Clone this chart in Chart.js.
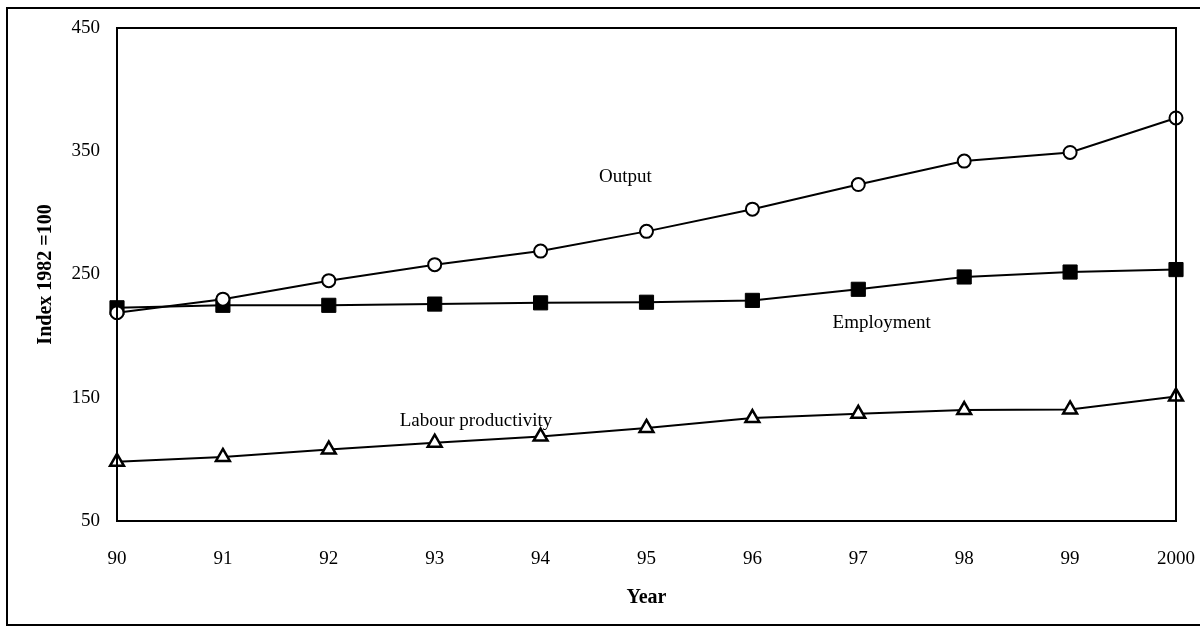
<!DOCTYPE html>
<html>
<head>
<meta charset="utf-8">
<script src="https://cdn.jsdelivr.net/npm/chart.js@4/dist/chart.umd.min.js"></script>
<style>
  html, body { margin: 0; padding: 0; background: #fff; }
  #wrap { width: 1200px; height: 627px; position: relative; }
</style>
</head>
<body>
<div id="wrap"><canvas id="c" width="1200" height="627"></canvas></div>
<script>
const years = ['90', '91', '92', '93', '94', '95', '96', '97', '98', '99', '2000'];
const output = [219, 230, 245, 258, 269, 285, 303, 323, 342, 349, 377];
const employment = [223, 225, 225, 226, 227, 227.5, 229, 238, 248, 252, 254];
const labourProductivity = [98, 102, 108, 113.5, 118.5, 125.5, 133.5, 137, 140, 140.5, 151];
const yTicks = [50, 150, 250, 350, 450];
const seriesNames = ['Output', 'Employment', 'Labour productivity'];

const SERIF = '"Liberation Serif", "Times New Roman", serif';

// in-plot series labels (x in category index units, y in data units)
const seriesLabels = [
  { text: seriesNames[0], x: 4.8, y: 329 },
  { text: seriesNames[1], x: 7.22, y: 211 },
  { text: seriesNames[2], x: 3.39, y: 131 }
];

const framePlugin = {
  id: 'frame',
  afterDraw(chart) {
    const ctx = chart.ctx;
    const a = chart.chartArea;
    ctx.save();
    ctx.strokeStyle = '#000';
    ctx.lineWidth = 2;
    ctx.strokeRect(a.left, a.top, a.right - a.left, a.bottom - a.top);
    // outer border
    ctx.strokeRect(7, 8, 1200, 617);
    // series labels
    ctx.fillStyle = '#000';
    ctx.font = '19px ' + SERIF;
    ctx.textAlign = 'center';
    ctx.textBaseline = 'middle';
    const xs = chart.scales.x, ys = chart.scales.y;
    seriesLabels.forEach(l => {
      const px = xs.getPixelForDecimal(l.x / (years.length - 1));
      const py = ys.getPixelForValue(l.y);
      ctx.fillText(l.text, px, py);
    });
    ctx.restore();
  }
};

new Chart(document.getElementById('c'), {
  type: 'line',
  data: {
    labels: years,
    datasets: [
      {
        label: seriesNames[0], data: output,
        borderColor: '#000', borderWidth: 2, pointStyle: 'circle', pointRadius: 6.5,
        pointBorderWidth: 2, pointBackgroundColor: '#fff', pointBorderColor: '#000', tension: 0
      },
      {
        label: seriesNames[1], data: employment,
        borderColor: '#000', borderWidth: 2, pointStyle: 'rect', pointRadius: 10,
        pointBorderWidth: 1, pointBackgroundColor: '#000', pointBorderColor: '#000', tension: 0
      },
      {
        label: seriesNames[2], data: labourProductivity,
        borderColor: '#000', borderWidth: 2, pointStyle: 'triangle', pointRadius: 8,
        pointBorderWidth: 2.5, pointBackgroundColor: '#fff', pointBorderColor: '#000', tension: 0
      }
    ]
  },
  options: {
    responsive: false,
    animation: false,
    layout: { padding: { left: 0, right: 24, top: 28, bottom: 0 } },
    plugins: { legend: { display: false }, tooltip: { enabled: false } },
    scales: {
      x: {
        type: 'category',
        offset: false,
        grid: { display: false, drawTicks: false },
        border: { display: false },
        ticks: {
          color: '#000', font: { family: SERIF, size: 19 },
          padding: 27, maxRotation: 0, autoSkip: false
        },
        title: {
          display: true, text: 'Year', color: '#000',
          font: { family: SERIF, size: 20, weight: 'bold' },
          padding: { top: 0, bottom: 17 }
        },
        afterFit(scale) { scale.height = 106; scale.paddingLeft = 0; scale.paddingRight = 0; }
      },
      y: {
        min: 50, max: 450,
        grid: { display: false, drawTicks: false },
        border: { display: false },
        afterBuildTicks(scale) { scale.ticks = yTicks.map(v => ({ value: v })); },
        ticks: {
          color: '#000', font: { family: SERIF, size: 19 }, padding: 17
        },
        title: {
          display: true, text: 'Index 1982 =100', color: '#000',
          font: { family: SERIF, size: 20, weight: 'bold' },
          padding: { top: 34, bottom: 0 }
        },
        afterFit(scale) { scale.width = 117; scale.paddingTop = 0; scale.paddingBottom = 0; }
      }
    }
  },
  plugins: [framePlugin]
});
</script>
</body>
</html>
